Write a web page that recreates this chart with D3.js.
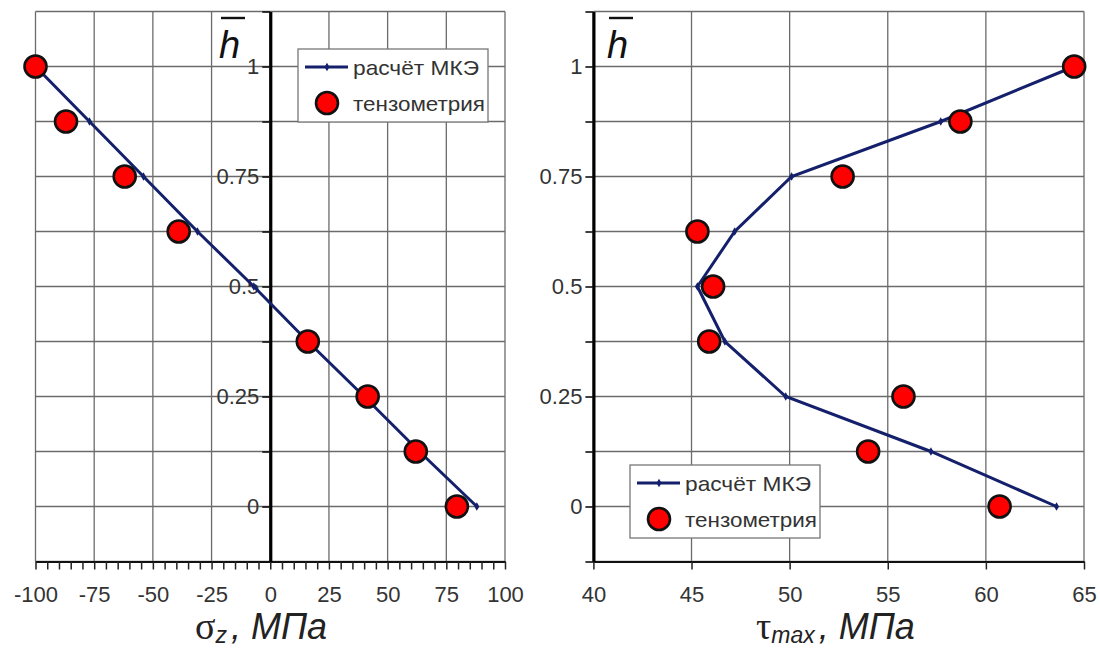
<!DOCTYPE html>
<html lang="ru">
<head>
<meta charset="utf-8">
<title>σz и τmax по высоте</title>
<script src="https://d3js.org/d3.v7.min.js"></script>
<style>
  body { margin: 0; background: #fff; }
  svg text { font-family: "Liberation Sans", Arial, sans-serif; }
</style>
</head>
<body>
<script>
// data
var hLevels = [1, 0.875, 0.75, 0.625, 0.5, 0.375, 0.25, 0.125, 0];
var sigmaFem = [-100, -77, -54, -31, -7, 16, 40, 63.5, 88];
var sigmaTensoH = [1, 0.875, 0.75, 0.625, 0.375, 0.25, 0.125, 0];
var sigmaTenso = [-100, -87, -62, -39, 16, 41.5, 62, 79.5];
var tauFem = [64.5, 57.7, 50.1, 47.2, 45.3, 46.7, 49.8, 57.2, 63.6];
var tauTensoH = [1, 0.875, 0.75, 0.625, 0.5, 0.375, 0.25, 0.125, 0];
var tauTenso = [64.5, 58.7, 52.7, 45.3, 46.1, 45.9, 55.8, 54.0, 60.7];

var sigmaTicks = d3.range(-100, 101, 5);
var tauTicks = [40, 45, 50, 55, 60, 65];
var hTicks = d3.range(-0.125, 1.126, 0.125);
var hLabels = [0, 0.25, 0.5, 0.75, 1];
var legendNames = ["расчёт МКЭ", "тензометрия"];

var width = 1100, height = 648;
var svg = d3.select("body").append("svg")
    .attr("width", width)
    .attr("height", height);

var y = d3.scaleLinear().domain([-0.125, 1.125]).range([561.5, 11.5]);

function drawPanel(opt) {
    var x = opt.x;
    var g = svg.append("g");
    var x0 = x.range()[0], x1 = x.range()[1];

    // grid
    g.append("g").selectAll("line.h")
        .data(hTicks).enter().append("line")
        .attr("x1", x0).attr("x2", x1)
        .attr("y1", function(d) { return y(d); })
        .attr("y2", function(d) { return y(d); })
        .attr("stroke", "#6b6b6b").attr("stroke-width", 1.3);
    g.append("g").selectAll("line.v")
        .data(opt.gridX).enter().append("line")
        .attr("x1", function(d) { return x(d); })
        .attr("x2", function(d) { return x(d); })
        .attr("y1", y.range()[1]).attr("y2", y.range()[0])
        .attr("stroke", "#6b6b6b").attr("stroke-width", 1.3);

    // x axis
    var xa = g.append("g")
        .attr("transform", "translate(0," + y(-0.125) + ")")
        .call(d3.axisBottom(x)
            .tickValues(opt.xTicks)
            .tickSize(8)
            .tickSizeOuter(0)
            .tickPadding(17)
            .tickFormat(function(d) { return opt.xLabel(d) ? d : ""; }));
    xa.select(".domain").attr("stroke", "#111").attr("stroke-width", 2.2);
    xa.selectAll(".tick line").attr("stroke", "#222").attr("stroke-width", 1.5);
    xa.selectAll("text").attr("font-size", 22).attr("fill", "#333")
        .attr("font-family", "Liberation Sans, Arial, sans-serif");

    // y axis
    var ya = g.append("g")
        .attr("transform", "translate(" + x(opt.yAt) + ",0)")
        .call(d3.axisLeft(y)
            .tickValues(hTicks)
            .tickSize(8)
            .tickSizeOuter(0)
            .tickPadding(3)
            .tickFormat(function(d) {
                var r = Math.round(d * 1000) / 1000;
                return hLabels.indexOf(r) >= 0 ? r : "";
            }));
    ya.select(".domain").attr("stroke", "#000").attr("stroke-width", 3.2);
    ya.selectAll(".tick line").attr("stroke", "#111").attr("stroke-width", 1.6);
    ya.selectAll("text").attr("font-size", 22).attr("fill", "#333")
        .attr("font-family", "Liberation Sans, Arial, sans-serif");

    // h bar label
    g.append("text")
        .attr("x", opt.hPos[0]).attr("y", opt.hPos[1])
        .attr("font-size", 38).attr("font-style", "italic")
        .attr("fill", "#111")
        .text("h");
    g.append("line")
        .attr("x1", opt.hPos[0] + 2).attr("x2", opt.hPos[0] + 26)
        .attr("y1", opt.hPos[1] - 40).attr("y2", opt.hPos[1] - 40)
        .attr("stroke", "#111").attr("stroke-width", 2.4);

    // FEM line
    var line = d3.line()
        .x(function(d) { return x(d[0]); })
        .y(function(d) { return y(d[1]); });
    var fem = opt.fem.map(function(v, i) { return [v, hLevels[i]]; });
    g.append("path")
        .datum(fem)
        .attr("d", line)
        .attr("fill", "none")
        .attr("stroke", "#14206b")
        .attr("stroke-width", 3);
    g.append("g").selectAll("path")
        .data(fem).enter().append("path")
        .attr("d", d3.symbol(d3.symbolDiamond, 22))
        .attr("transform", function(d) { return "translate(" + x(d[0]) + "," + y(d[1]) + ")"; })
        .attr("fill", "#14206b");

    // strain gauge points
    var tenso = opt.tenso.map(function(v, i) { return [v, opt.tensoH[i]]; });
    g.append("g").selectAll("circle")
        .data(tenso).enter().append("circle")
        .attr("cx", function(d) { return x(d[0]); })
        .attr("cy", function(d) { return y(d[1]); })
        .attr("r", 11)
        .attr("fill", "#ff0000")
        .attr("stroke", "#111")
        .attr("stroke-width", 2.6);

    // legend
    var lg = g.append("g").attr("transform", "translate(" + opt.legend[0] + "," + opt.legend[1] + ")");
    lg.append("rect")
        .attr("width", 190).attr("height", 73)
        .attr("fill", "#fff")
        .attr("stroke", "#777").attr("stroke-width", 1.3);
    lg.append("line")
        .attr("x1", 7).attr("x2", 50).attr("y1", 18).attr("y2", 18)
        .attr("stroke", "#14206b").attr("stroke-width", 3);
    lg.append("path")
        .attr("d", d3.symbol(d3.symbolDiamond, 22))
        .attr("transform", "translate(29,18)")
        .attr("fill", "#14206b");
    lg.append("circle")
        .attr("cx", 29).attr("cy", 54).attr("r", 11)
        .attr("fill", "#ff0000").attr("stroke", "#111").attr("stroke-width", 2.6);
    lg.selectAll("text.name")
        .data(legendNames).enter().append("text")
        .attr("x", 55)
        .attr("y", function(d, i) { return 18 + i * 36; })
        .attr("dy", "0.36em")
        .attr("font-size", 21)
        .attr("textLength", function(d, i) { return i ? 132 : 126; })
        .attr("lengthAdjust", "spacingAndGlyphs")
        .attr("fill", "#333")
        .text(function(d) { return d; });

    // axis title
    var t = g.append("text")
        .attr("x", opt.title[0]).attr("y", opt.title[1])
        .attr("fill", "#222");
    t.append("tspan")
        .attr("font-family", "Liberation Serif, serif")
        .attr("font-size", 38)
        .text(opt.symbol);
    t.append("tspan")
        .attr("font-size", 23).attr("font-style", "italic")
        .attr("dy", 4)
        .text(opt.sub);
    t.append("tspan")
        .attr("font-size", 36).attr("font-style", "italic")
        .attr("dy", -4).attr("dx", 4)
        .text(", МПа");
}

drawPanel({
    x: d3.scaleLinear().domain([-100, 100]).range([35.5, 505]),
    xTicks: sigmaTicks,
    gridX: d3.range(-100, 101, 25),
    xLabel: function(d) { return d % 25 === 0; },
    yAt: 0,
    fem: sigmaFem,
    tenso: sigmaTenso,
    tensoH: sigmaTensoH,
    legend: [298, 49],
    hPos: [219, 58],
    symbol: "σ",
    sub: "z",
    title: [195, 639]
});

drawPanel({
    x: d3.scaleLinear().domain([40, 65]).range([593.4, 1084]),
    xTicks: tauTicks,
    gridX: tauTicks,
    xLabel: function(d) { return true; },
    yAt: 40,
    fem: tauFem,
    tenso: tauTenso,
    tensoH: tauTensoH,
    legend: [630, 465],
    hPos: [607, 58],
    symbol: "τ",
    sub: "max",
    title: [756, 639]
});
</script>
</body>
</html>
